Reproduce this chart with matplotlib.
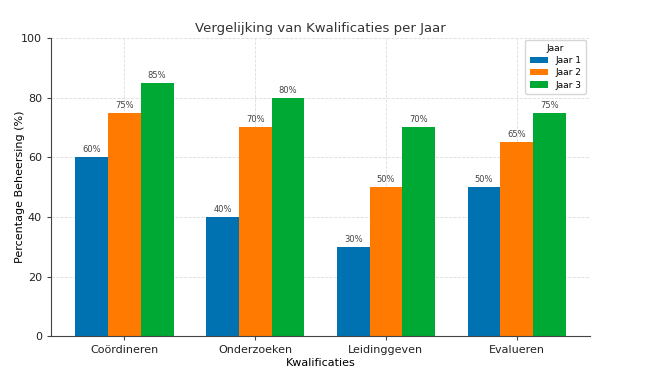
import numpy as np
import matplotlib.pyplot as plt

plt.rcParams['font.family'] = ['DejaVu Sans']

categories = ['Coördineren', 'Onderzoeken', 'Leidinggeven', 'Evalueren']
series = ['Jaar 1', 'Jaar 2', 'Jaar 3']
jaar1 = [60, 40, 30, 50]
jaar2 = [75, 70, 50, 65]
jaar3 = [85, 80, 70, 75]

colors = ['#0072B2', '#FF7A00', '#00A933']

fig = plt.figure(figsize=(6.45, 3.69), dpi=100)
ax = fig.add_axes([0.079, 0.089, 0.836, 0.808])

x = np.arange(len(categories))
w = 0.25
for i, (vals, name) in enumerate(zip([jaar1, jaar2, jaar3], series)):
    bars = ax.bar(x + (i - 1) * w, vals, w, color=colors[i], label=name, zorder=2)
    for b, v in zip(bars, vals):
        ax.text(b.get_x() + b.get_width() / 2, v + 1, f'{v}%',
                ha='center', va='bottom', fontsize=6, color='#444444')

ax.set_ylim(0, 100)
ax.set_xticks(x)
ax.set_xticklabels(categories, fontsize=8, color='#222222')
ax.tick_params(axis='y', labelsize=8, labelcolor='#222222')
ax.tick_params(length=3, color='#444444')
ax.set_xlabel('Kwalificaties', fontsize=8, labelpad=2)
ax.set_ylabel('Percentage Beheersing (%)', fontsize=8)
ax.yaxis.set_label_coords(-0.048, 0.5)
ax.set_title('Vergelijking van Kwalificaties per Jaar', fontsize=9.5, color='#333333', pad=4)

ax.grid(True, linestyle='--', linewidth=0.6, color='#dddddd', zorder=0)
ax.spines['top'].set_visible(False)
ax.spines['right'].set_visible(False)
for s in ['left', 'bottom']:
    ax.spines[s].set_color('#444444')

leg = ax.legend(title='Jaar', fontsize=6.5, title_fontsize=6.5, loc='upper right',
                frameon=True, edgecolor='#cccccc', handlelength=2.0,
                borderpad=0.5, labelspacing=0.35, bbox_to_anchor=(1.0, 1.01))

fig.savefig('out.png', dpi=100, facecolor='white')
